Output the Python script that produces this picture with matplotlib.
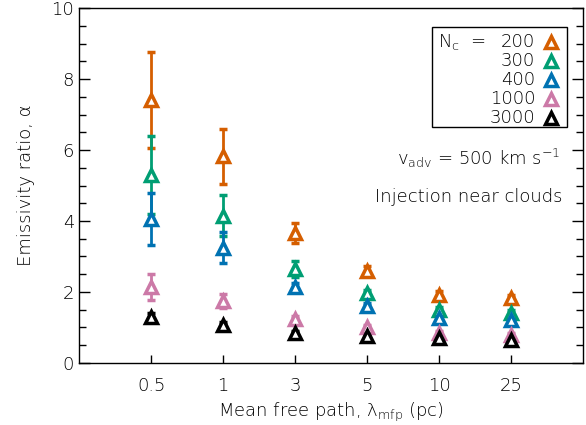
import matplotlib
matplotlib.use("Agg")
import matplotlib.pyplot as plt
from matplotlib.patches import Rectangle
import numpy as np

plt.rcParams['font.family'] = 'DejaVu Sans'
plt.rcParams['font.weight'] = 'light'
plt.rcParams['axes.labelweight'] = 'light'
plt.rcParams['mathtext.fontset'] = 'custom'
plt.rcParams['mathtext.rm'] = 'DejaVu Sans:light'

# mean free path categories (pc)
mfp_labels = ['0.5', '1', '3', '5', '10', '25']

# number of clouds
n_clouds = ['200', '300', '400', '1000', '3000']
colors = ['#D55E00', '#009E73', '#0072B2', '#CC79A7', 'black']

# emissivity ratio, one row per N_c
alpha_200 = [7.40, 5.82, 3.67, 2.60, 1.92, 1.84]
alpha_300 = [5.30, 4.15, 2.64, 1.96, 1.49, 1.42]
alpha_400 = [4.05, 3.25, 2.14, 1.60, 1.26, 1.21]
alpha_1000 = [2.15, 1.75, 1.25, 1.02, 0.84, 0.79]
alpha_3000 = [1.30, 1.08, 0.83, 0.76, 0.70, 0.65]

err_200 = [1.35, 0.77, 0.28, 0.12, 0.10, 0.08]
err_300 = [1.10, 0.57, 0.22, 0.10, 0.08, 0.07]
err_400 = [0.74, 0.43, 0.12, 0.08, 0.06, 0.06]
err_1000 = [0.37, 0.20, 0.08, 0.06, 0.05, 0.05]
err_3000 = [0.12, 0.08, 0.06, 0.05, 0.04, 0.04]

values = [alpha_200, alpha_300, alpha_400, alpha_1000, alpha_3000]
errors = [err_200, err_300, err_400, err_1000, err_3000]

fig = plt.figure(figsize=(5.86, 4.25), dpi=100)
ax = fig.add_axes([0.135, 0.146, 0.86, 0.835])

x = np.arange(1, len(mfp_labels) + 1)
for vals, errs, c in zip(values, errors, colors):
    ax.errorbar(x, vals, yerr=errs, fmt='^', color=c, mfc='white', mec=c,
                ms=9, mew=2.5, elinewidth=2, capsize=3, capthick=2)

ax.set_xlim(0, len(mfp_labels) + 1)
ax.set_ylim(0, 10)
ax.set_xticks(x)
ax.set_xticklabels(mfp_labels)
ax.set_yticks(np.arange(0, 11, 2))
ax.set_yticks(np.arange(0, 10.01, 0.5), minor=True)
ax.tick_params(axis='y', which='major', direction='in', length=8, width=1,
               right=True, labelsize=13)
ax.tick_params(axis='y', which='minor', direction='in', length=5, width=1,
               right=True)
ax.tick_params(axis='x', direction='in', length=6, width=1, top=False,
               labelsize=13, pad=10)
for s in ax.spines.values():
    s.set_linewidth(1)

ax.set_ylabel('Emissivity ratio, α', fontsize=13, labelpad=12)
ax.set_xlabel(r'Mean free path, λ$_{\rm mfp}$ (pc)', fontsize=13, labelpad=4)

# legend box drawn by hand (right aligned numbers, marker after text)
ax.add_patch(Rectangle((0.70, 0.665), 0.268, 0.283, transform=ax.transAxes,
                       fill=False, lw=1, ec='black'))
ax.text(0.712, 0.905, r'N$_{\rm c}$  =', transform=ax.transAxes,
        fontsize=13, ha='left', va='center')
for i, (lab, c) in enumerate(zip(n_clouds, colors)):
    yy = 0.905 - i * 0.054
    ax.text(0.905, yy, lab, transform=ax.transAxes, fontsize=13,
            ha='right', va='center')
    ax.plot([0.937], [yy], '^', transform=ax.transAxes, color=c, mfc='white',
            ms=9, mew=2.5, clip_on=False)

ax.text(0.955, 0.577, r'v$_{\rm adv}$ = 500 km s$^{-1}$', transform=ax.transAxes,
        fontsize=13, ha='right', va='center')
ax.text(0.96, 0.468, 'Injection near clouds', transform=ax.transAxes,
        fontsize=13, ha='right', va='center')

fig.savefig('out.png', dpi=100)
